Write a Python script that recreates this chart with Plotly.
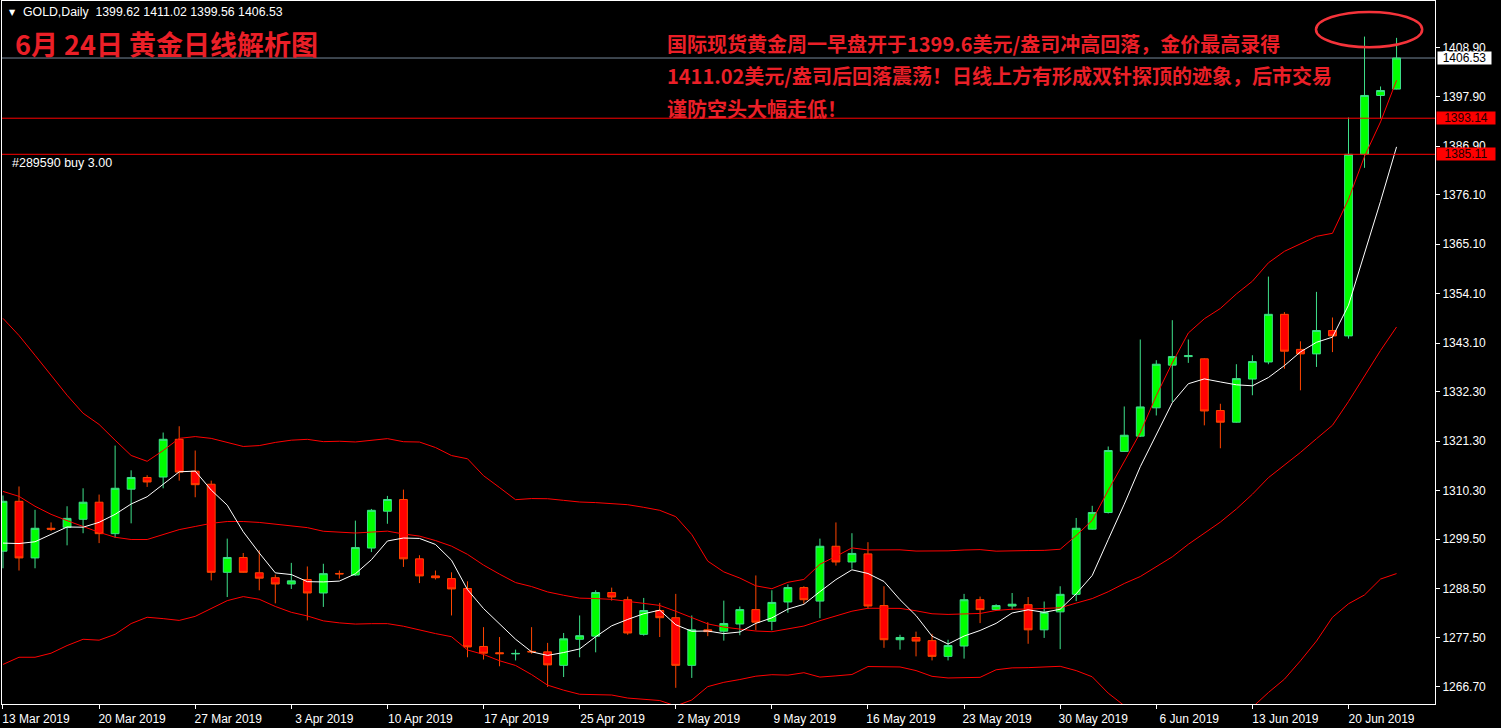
import plotly.graph_objects as go
import pandas as pd

# ---------------- data ----------------
dates = [
    "2019-03-13", "2019-03-14", "2019-03-15", "2019-03-17", "2019-03-18", "2019-03-19",
    "2019-03-20", "2019-03-21", "2019-03-22", "2019-03-24", "2019-03-25", "2019-03-26",
    "2019-03-27", "2019-03-28", "2019-03-29", "2019-03-31", "2019-04-01", "2019-04-02",
    "2019-04-03", "2019-04-04", "2019-04-05", "2019-04-07", "2019-04-08", "2019-04-09",
    "2019-04-10", "2019-04-11", "2019-04-12", "2019-04-14", "2019-04-15", "2019-04-16",
    "2019-04-17", "2019-04-18", "2019-04-21", "2019-04-22", "2019-04-23", "2019-04-24",
    "2019-04-25", "2019-04-26", "2019-04-28", "2019-04-29", "2019-04-30", "2019-05-01",
    "2019-05-02", "2019-05-03", "2019-05-05", "2019-05-06", "2019-05-07", "2019-05-08",
    "2019-05-09", "2019-05-10", "2019-05-12", "2019-05-13", "2019-05-14", "2019-05-15",
    "2019-05-16", "2019-05-17", "2019-05-19", "2019-05-20", "2019-05-21", "2019-05-22",
    "2019-05-23", "2019-05-24", "2019-05-26", "2019-05-27", "2019-05-28", "2019-05-29",
    "2019-05-30", "2019-05-31", "2019-06-02", "2019-06-03", "2019-06-04", "2019-06-05",
    "2019-06-06", "2019-06-07", "2019-06-09", "2019-06-10", "2019-06-11", "2019-06-12",
    "2019-06-13", "2019-06-14", "2019-06-16", "2019-06-17", "2019-06-18", "2019-06-19",
    "2019-06-20", "2019-06-21", "2019-06-23", "2019-06-24",
]

opens = [
    1296.8, 1307.9, 1295.3, 1301.9, 1302.1, 1303.9, 1307.7, 1300.7, 1310.6, 1313.2,
    1313.3, 1321.7, 1314.6, 1311.7, 1292.1, 1295.4, 1292.0, 1290.9, 1289.5, 1290.5,
    1287.5, 1291.85, 1291.5, 1297.5, 1305.7, 1308.3, 1295.1, 1291.3, 1290.7, 1288.5,
    1275.6, 1274.2, 1273.95, 1274.5, 1274.4, 1271.4, 1277.2, 1277.9, 1287.6, 1286.0,
    1278.3, 1283.6, 1282.0, 1271.4, 1279.3, 1279.0, 1280.6, 1283.8, 1281.2, 1285.5,
    1288.7, 1285.7, 1297.9, 1294.4, 1296.2, 1284.7, 1277.1, 1277.6, 1276.9, 1273.4,
    1275.7, 1286.0, 1283.8, 1284.6, 1284.9, 1279.3, 1283.3, 1287.2, 1301.7, 1305.4,
    1319.0, 1322.4, 1328.7, 1338.2, 1340.1, 1339.6, 1328.1, 1325.5, 1335.1, 1338.9,
    1349.5, 1341.7, 1340.7, 1345.9, 1344.7, 1385.1, 1398.2, 1399.62,
]
highs = [
    1309.2, 1311.2, 1306.0, 1303.2, 1306.8, 1310.8, 1309.4, 1320.3, 1314.8, 1313.7,
    1323.2, 1324.6, 1319.2, 1312.5, 1299.6, 1296.4, 1297.0, 1291.6, 1294.2, 1293.4,
    1294.0, 1292.5, 1303.6, 1306.2, 1309.1, 1310.5, 1295.9, 1292.5, 1292.1, 1290.1,
    1279.9, 1277.7, 1274.9, 1279.9, 1276.4, 1278.6, 1282.5, 1288.1, 1288.7, 1286.7,
    1286.4, 1285.3, 1287.3, 1282.5, 1281.0, 1285.8, 1284.5, 1291.4, 1288.1, 1289.4,
    1289.0, 1299.6, 1303.2, 1300.8, 1298.8, 1289.0, 1278.2, 1278.9, 1278.4, 1277.1,
    1287.3, 1286.7, 1285.0, 1287.5, 1286.6, 1285.6, 1289.0, 1304.2, 1306.9, 1320.1,
    1329.0, 1343.9, 1339.3, 1348.2, 1343.9, 1339.7, 1329.6, 1338.4, 1340.4, 1357.9,
    1350.0, 1343.5, 1354.5, 1348.8, 1393.3, 1411.3, 1400.2, 1411.02,
]
lows = [
    1293.0, 1292.5, 1293.0, 1301.3, 1298.1, 1300.8, 1298.6, 1299.8, 1303.0, 1311.1,
    1310.8, 1312.5, 1308.8, 1290.3, 1286.6, 1292.0, 1288.1, 1285.2, 1288.4, 1281.4,
    1284.4, 1290.7, 1291.3, 1296.6, 1302.9, 1293.3, 1289.7, 1290.5, 1282.5, 1273.2,
    1272.7, 1271.2, 1272.5, 1274.0, 1266.6, 1268.8, 1273.2, 1274.3, 1285.8, 1278.2,
    1278.0, 1277.7, 1266.4, 1268.6, 1277.9, 1276.9, 1278.1, 1279.2, 1279.2, 1283.1,
    1285.1, 1281.9, 1293.6, 1292.9, 1284.0, 1275.3, 1274.9, 1273.4, 1272.5, 1272.5,
    1272.9, 1280.8, 1283.6, 1283.8, 1276.2, 1277.5, 1275.0, 1285.7, 1301.6, 1305.2,
    1318.9, 1322.2, 1327.0, 1330.0, 1338.7, 1324.8, 1319.7, 1325.4, 1331.5, 1338.4,
    1337.4, 1332.6, 1337.8, 1341.1, 1344.1, 1382.1, 1393.0, 1399.56,
]
closes = [
    1307.9, 1295.3, 1301.9, 1301.7, 1304.1, 1307.7, 1300.7, 1310.8, 1313.2, 1312.2,
    1321.7, 1314.4, 1311.6, 1292.1, 1295.4, 1292.1, 1290.8, 1289.5, 1290.2, 1287.5,
    1291.8, 1291.75, 1297.6, 1305.9, 1308.3, 1295.1, 1291.3, 1290.9, 1288.4, 1275.5,
    1274.1, 1274.0, 1274.05, 1274.4, 1271.5, 1277.3, 1278.0, 1287.6, 1286.6, 1278.6,
    1283.6, 1282.0, 1271.4, 1279.3, 1278.9, 1280.7, 1283.8, 1281.0, 1285.4, 1288.7,
    1286.0, 1297.9, 1294.4, 1296.3, 1284.6, 1277.1, 1277.6, 1276.8, 1273.4, 1275.8,
    1286.0, 1283.8, 1284.7, 1285.0, 1279.3, 1283.2, 1287.2, 1301.9, 1305.4, 1319.2,
    1322.6, 1328.9, 1338.4, 1340.1, 1340.3, 1328.0, 1325.5, 1335.2, 1339.0, 1349.5,
    1341.3, 1340.7, 1345.9, 1344.7, 1385.1, 1398.2, 1399.3, 1406.53,
]

# indicator values for bars whose look-back lies off-chart
ma5_early = [1298.6, 1298.5, 1298.9, 1300.6]
bb_upper_early = [1348.6, 1344.8, 1340.4, 1335.9, 1331.5, 1327.5, 1325.0, 1321.5, 1318.1, 1316.8,
                  1319.2, 1321.9, 1322.3, 1321.9, 1321.0, 1320.1, 1320.3, 1321.0, 1321.5]
bb_mid_early = [1310.1, 1309.0, 1306.8, 1305.0, 1303.6, 1302.3, 1301.0, 1299.9, 1299.4, 1299.4,
                1300.5, 1301.6, 1302.3, 1303.0, 1303.4, 1303.4, 1303.2, 1302.8, 1302.3]
bb_lower_early = [1271.6, 1273.2, 1273.2, 1274.1, 1275.8, 1277.2, 1277.0, 1278.3, 1280.7, 1282.1,
                  1281.8, 1281.4, 1282.3, 1284.1, 1285.8, 1286.7, 1286.1, 1284.5, 1283.2]

level_lines = [1393.14, 1385.11]
ytick_vals = [1408.90, 1397.90, 1386.90, 1376.10, 1365.10, 1354.10, 1343.10,
              1332.30, 1321.30, 1310.30, 1299.50, 1288.50, 1277.50, 1266.70]
xtick_dates = ["2019-03-13", "2019-03-20", "2019-03-27", "2019-04-03", "2019-04-10",
               "2019-04-17", "2019-04-25", "2019-05-02", "2019-05-09", "2019-05-16",
               "2019-05-23", "2019-05-30", "2019-06-06", "2019-06-13", "2019-06-20"]
xtick_labels = ["13 Mar 2019", "20 Mar 2019", "27 Mar 2019", "3 Apr 2019", "10 Apr 2019",
                "17 Apr 2019", "25 Apr 2019", "2 May 2019", "9 May 2019", "16 May 2019",
                "23 May 2019", "30 May 2019", "6 Jun 2019", "13 Jun 2019", "20 Jun 2019"]

title_text = "6月 24日 黄金日线解析图"
note_lines = [
    "国际现货黄金周一早盘开于1399.6美元/盎司冲高回落，金价最高录得",
    "1411.02美元/盎司后回落震荡！日线上方有形成双针探顶的迹象，后市交易",
    "谨防空头大幅走低！",
]
order_text = "#289590 buy 3.00"
symbol_text = "GOLD,Daily"

# ---------------- indicators ----------------
cs = pd.Series(closes)
ma5 = cs.rolling(5).mean()
mid = cs.rolling(20).mean()
sd = cs.rolling(20).std(ddof=0)
upper = mid + 2 * sd
lower = mid - 2 * sd
for i, v in enumerate(ma5_early):
    ma5.iloc[i] = v
for i in range(len(bb_mid_early)):
    mid.iloc[i] = bb_mid_early[i]
    upper.iloc[i] = bb_upper_early[i]
    lower.iloc[i] = bb_lower_early[i]

# ---------------- figure ----------------
W, H = 1501, 728
ML, MR, MT, MB = 2, 66, 1, 24
PW, PH = W - ML - MR, H - MT - MB


def px_x(px):
    return (px - ML) / PW


def px_y(py):
    return (H - MB - py) / PH


RED_TXT = "#ea1f27"
fig = go.Figure()

fig.add_trace(go.Candlestick(
    x=dates, open=opens, high=highs, low=lows, close=closes,
    increasing=dict(line=dict(color="#3ee08a", width=1), fillcolor="#00ff00"),
    decreasing=dict(line=dict(color="#ff4500", width=1), fillcolor="#ff0000"),
    whiskerwidth=0, hoverinfo="skip", showlegend=False,
))
for series in (upper, mid, lower):
    fig.add_trace(go.Scatter(x=dates, y=series, mode="lines",
                             line=dict(color="#ff0000", width=1), hoverinfo="skip",
                             showlegend=False))
fig.add_trace(go.Scatter(x=dates, y=ma5, mode="lines",
                         line=dict(color="#ffffff", width=1), hoverinfo="skip",
                         showlegend=False))

shapes = []
# current price line
shapes.append(dict(type="line", xref="paper", x0=0, x1=1, yref="y",
                   y0=closes[-1], y1=closes[-1], line=dict(color="#778899", width=1),
                   layer="below"))
for lv in level_lines:
    shapes.append(dict(type="line", xref="paper", x0=0, x1=1, yref="y",
                       y0=lv, y1=lv, line=dict(color="#ff0000", width=1), layer="above"))
# highlight ellipse around the double top
n = len(dates)
shapes.append(dict(type="circle", xref="x", yref="y",
                   x0=n - 6.03, x1=n + 0.6, y0=1408.95, y1=1416.8,
                   line=dict(color="#f5333a", width=2.5), layer="above"))

annotations = []
annotations.append(dict(xref="paper", yref="paper", x=px_x(7), y=px_y(12),
                        xanchor="left", yanchor="middle", showarrow=False,
                        text="▼", font=dict(family="DejaVu Sans", size=8, color="#ffffff")))
annotations.append(dict(xref="paper", yref="paper", x=px_x(21), y=px_y(12),
                        xanchor="left", yanchor="middle", showarrow=False,
                        text=f"{symbol_text}  {opens[-1]:.2f} {highs[-1]:.2f} {lows[-1]:.2f} {closes[-1]:.2f}",
                        font=dict(family="Liberation Sans", size=12.3, color="#ffffff")))
annotations.append(dict(xref="paper", yref="paper", x=px_x(13), y=px_y(44),
                        xanchor="left", yanchor="middle", showarrow=False,
                        text=f"<b>{title_text}</b>",
                        font=dict(family="Noto Sans CJK SC", size=27, color=RED_TXT)))
for k, line in enumerate(note_lines):
    annotations.append(dict(xref="paper", yref="paper", x=px_x(665), y=px_y(44 + 32 * k),
                            xanchor="left", yanchor="middle", showarrow=False,
                            text=f"<b>{line}</b>",
                            font=dict(family="Noto Sans CJK SC", size=20, color=RED_TXT)))
annotations.append(dict(xref="paper", yref="paper", x=px_x(10), y=px_y(163),
                        xanchor="left", yanchor="middle", showarrow=False,
                        text=order_text,
                        font=dict(family="Liberation Sans", size=12.5, color="#ffffff")))
# price tags on the right scale
annotations.append(dict(xref="paper", yref="y", x=px_x(1437), y=closes[-1],
                        xanchor="left", yanchor="middle", showarrow=False,
                        text=f"{closes[-1]:.2f}", bgcolor="#ffffff", width=53, height=12,
                        borderpad=0, align="center",
                        font=dict(family="Liberation Sans", size=12, color="#000000")))
for lv in level_lines:
    annotations.append(dict(xref="paper", yref="y", x=px_x(1436), y=lv,
                            xanchor="left", yanchor="middle", showarrow=False,
                            text=f"{lv:.2f}", bgcolor="#ff0000", width=58, height=12,
                            borderpad=0, align="center",
                            font=dict(family="Liberation Sans", size=12, color="#200000")))

fig.update_layout(
    width=W, height=H,
    margin=dict(l=ML, r=MR, t=MT, b=MB, pad=0),
    paper_bgcolor="#000000", plot_bgcolor="#000000",
    hovermode=False, showlegend=False,
    boxgap=0.3,
    shapes=shapes, annotations=annotations,
    xaxis=dict(
        type="category", range=[-0.062, 89.40],
        rangeslider=dict(visible=False),
        tickmode="array", tickvals=xtick_dates, ticktext=xtick_labels,
        ticks="outside", ticklen=4, tickcolor="#ffffff", ticklabelshift=33,
        tickfont=dict(family="Liberation Sans", size=12, color="#ffffff"),
        showgrid=False, zeroline=False,
        showline=True, linecolor="#ffffff", linewidth=1, mirror=True,
    ),
    yaxis=dict(
        side="right", range=[1262.80, 1419.22],
        tickmode="array", tickvals=ytick_vals, ticktext=[f"{v:.2f}" for v in ytick_vals],
        ticks="outside", ticklen=4, tickcolor="#ffffff",
        tickfont=dict(family="Liberation Sans", size=12, color="#ffffff"),
        showgrid=False, zeroline=False,
        showline=True, linecolor="#ffffff", linewidth=1, mirror=True,
    ),
)

fig.write_html(
    "out.html",
    config={"displayModeBar": False},
    post_script="document.body.style.margin='0';document.body.style.background='#000';",
)
